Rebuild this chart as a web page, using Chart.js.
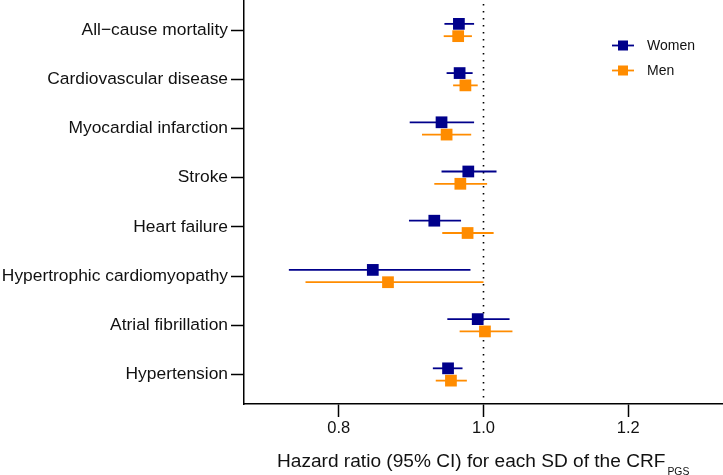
<!DOCTYPE html>
<html>
<head>
<meta charset="utf-8">
<script src="https://cdn.jsdelivr.net/npm/chart.js@4"></script>
<style>
  html, body { margin: 0; padding: 0; background: #fff; }
  #wrap { width: 723px; height: 475px; }
</style>
</head>
<body>
<div id="wrap"><canvas id="forestchart" width="723" height="475"></canvas></div>
<script>
"use strict";

/* data */
var outcomes = ['All\u2212cause mortality', 'Cardiovascular disease', 'Myocardial infarction', 'Stroke',
    'Heart failure', 'Hypertrophic cardiomyopathy', 'Atrial fibrillation', 'Hypertension'];
var womenHR = [0.966, 0.967, 0.942, 0.979, 0.932, 0.847, 0.992, 0.951];
var womenLo = [0.946, 0.949, 0.898, 0.942, 0.897, 0.731, 0.950, 0.930];
var womenHi = [0.987, 0.985, 0.987, 1.018, 0.969, 0.982, 1.036, 0.971];
var menHR = [0.965, 0.975, 0.949, 0.968, 0.978, 0.868, 1.002, 0.955];
var menLo = [0.945, 0.958, 0.915, 0.932, 0.943, 0.754, 0.967, 0.934];
var menHi = [0.984, 0.992, 0.983, 1.005, 1.014, 1.000, 1.040, 0.977];
var xTicks = [0.8, 1.0, 1.2];

var FONT = '"Liberation Sans", Arial, Helvetica, sans-serif';
var NAVY = '#00008b';
var ORANGE = '#ff8c00';
var SHIFT = 0.125; // vertical offset of each sex within a row

function points(hr, shift) {
    return hr.map(function (v, i) { return { x: v, y: i + shift }; });
}

// chart.js reserves room for edge labels, the figure does not
function noPad(scale) {
    scale.paddingTop = 0;
    scale.paddingBottom = 0;
    scale.paddingLeft = 0;
    scale.paddingRight = 0;
}

/* horizontal CI lines, drawn under the squares */
var ciLines = {
    id: 'ciLines',
    beforeDatasetsDraw: function (chart) {
        var ctx = chart.ctx, xs = chart.scales.x, ys = chart.scales.y;
        var sets = [[womenLo, womenHi, -SHIFT, NAVY], [menLo, menHi, SHIFT, ORANGE]];
        ctx.save();
        // reference line at HR = 1
        ctx.strokeStyle = '#000';
        ctx.lineWidth = 1.6;
        ctx.setLineDash([1.6, 5.4]);
        ctx.beginPath();
        ctx.moveTo(xs.getPixelForValue(1), chart.chartArea.top + 4);
        ctx.lineTo(xs.getPixelForValue(1), chart.chartArea.bottom);
        ctx.stroke();
        ctx.setLineDash([]);
        sets.forEach(function (s) {
            ctx.strokeStyle = s[3];
            ctx.lineWidth = 1.8;
            s[0].forEach(function (lo, i) {
                var y = ys.getPixelForValue(i + s[2]);
                ctx.beginPath();
                ctx.moveTo(xs.getPixelForValue(lo), y);
                ctx.lineTo(xs.getPixelForValue(s[1][i]), y);
                ctx.stroke();
            });
        });
        ctx.restore();
    },
    afterDraw: function (chart) {
        var ctx = chart.ctx;
        ctx.save();
        // legend
        var items = [['Women', NAVY, 45.5], ['Men', ORANGE, 70.5]];
        items.forEach(function (it) {
            ctx.strokeStyle = it[1];
            ctx.fillStyle = it[1];
            ctx.lineWidth = 1.8;
            ctx.beginPath();
            ctx.moveTo(612, it[2]);
            ctx.lineTo(634, it[2]);
            ctx.stroke();
            ctx.fillRect(618, it[2] - 5, 10, 10);
            ctx.fillStyle = '#111';
            ctx.font = '14px ' + FONT;
            ctx.textBaseline = 'middle';
            ctx.fillText(it[0], 647, it[2] + 1);
        });
        // axis title with subscript
        ctx.fillStyle = '#111';
        ctx.textBaseline = 'alphabetic';
        ctx.font = '19.1px ' + FONT;
        var t = 'Hazard ratio (95% CI) for each SD of the CRF';
        ctx.fillText(t, 277, 467);
        var w = ctx.measureText(t).width;
        ctx.font = '10.4px ' + FONT;
        ctx.fillText('PGS', 277 + w + 2, 475);
        ctx.restore();
    }
};

var ctx1 = document.getElementById('forestchart').getContext('2d');
var forestConfig = {
    type: 'scatter',
    data: {
        datasets: [{
            label: 'Women',
            data: points(womenHR, -SHIFT),
            pointStyle: 'rect',
            radius: 8.3,
            hoverRadius: 8.3,
            backgroundColor: NAVY,
            borderColor: NAVY,
            borderWidth: 0,
        }, {
            label: 'Men',
            data: points(menHR, SHIFT),
            pointStyle: 'rect',
            radius: 8.3,
            hoverRadius: 8.3,
            backgroundColor: ORANGE,
            borderColor: ORANGE,
            borderWidth: 0,
        }]
    },
    options: {
        responsive: false,
        animation: false,
        devicePixelRatio: 1,
        layout: { padding: 0, autoPadding: false },
        plugins: {
            legend: { display: false },
            tooltip: { enabled: false },
        },
        scales: {
            x: {
                type: 'linear',
                min: 0.669,
                max: 1.331,
                afterBuildTicks: function (scale) {
                    scale.ticks = xTicks.map(function (v) { return { value: v }; });
                },
                afterFit: function (scale) { scale.height = 71; noPad(scale); },
                ticks: {
                    color: '#111',
                    font: { family: FONT, size: 16.5 },
                    padding: 2,
                    callback: function (v) { return v.toFixed(1); }
                },
                grid: {
                    drawOnChartArea: false,
                    tickLength: 13,
                    tickWidth: 1.5,
                    tickColor: '#000',
                },
                border: { display: true, color: '#000', width: 1.5 },
            },
            y: {
                type: 'linear',
                reverse: true,
                min: -0.61,
                max: 7.6,
                afterBuildTicks: function (scale) {
                    scale.ticks = outcomes.map(function (o, i) { return { value: i }; });
                },
                afterFit: function (scale) { scale.width = 244; noPad(scale); },
                ticks: {
                    color: '#111',
                    font: { family: FONT, size: 17.4 },
                    padding: 3,
                    callback: function (v) { return outcomes[v]; }
                },
                grid: {
                    drawOnChartArea: false,
                    tickLength: 13,
                    tickWidth: 1.5,
                    tickColor: '#000',
                },
                border: { display: true, color: '#000', width: 1.5 },
            }
        }
    },
    plugins: [ciLines]
};
var forestChart = new Chart(ctx1, forestConfig);
</script>
</body>
</html>
